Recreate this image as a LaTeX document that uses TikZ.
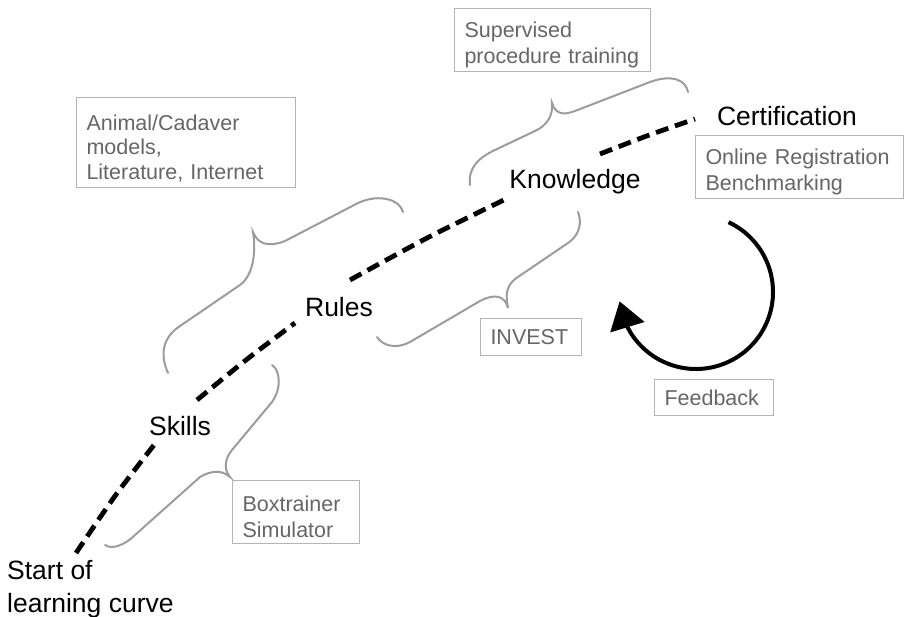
\documentclass[tikz,border=0pt]{standalone}
\usepackage{fontspec}
\setmainfont{Liberation Sans}
\usetikzlibrary{arrows.meta,bending}
\definecolor{bracegray}{HTML}{9C9C9C}
\definecolor{boxgray}{HTML}{B4B4B4}
\definecolor{textgray}{HTML}{666666}
\newcommand\boxtoppad{\rule{0pt}{25.5pt}}
\tikzset{
  mainlabel/.style={font=\fontsize{26.5}{33}\selectfont, text=black, inner sep=3pt},
  infobox/.style={draw=boxgray, line width=1pt, text=textgray,
    font=\fontsize{21.5}{26}\selectfont, align=left,
    inner xsep=10pt, inner ysep=0pt, anchor=north west},
  bracestyle/.style={draw=bracegray, line width=2pt, line cap=round},
  learncurve/.style={line width=4.8pt, dash pattern=on 13pt off 7pt},
  feedbackarrow/.style={line width=4pt, -{Triangle[length=27pt,width=35pt]}},
}
\begin{document}
\begin{tikzpicture}[x=1pt,y=-1pt]
\fill[white] (0,0) rectangle (911,617);
\useasboundingbox (0,0) rectangle (911,617);

% main labels
\node[mainlabel] (skills) at (180,426) {Skills};
\node[mainlabel] (rules) at (339,307) {Rules};
\node[mainlabel] (knowledge) at (575,182) {Knowledge};
\node[mainlabel] (cert) at (787,116) {Certification};
\node[mainlabel, align=left, anchor=north west] (start) at (4,557) {Start of\\learning curve};

% learning curve, drawn between the labels
\coordinate (s0) at (76,553);
\coordinate (s1) at (115,496);
\coordinate (s2) at (154,445);
\coordinate (r0) at (197,400);
\coordinate (r1) at (246,360);
\coordinate (r2) at (295,323);
\coordinate (k0) at (350,280);
\coordinate (k1) at (429,237);
\coordinate (k2) at (508,198);
\coordinate (c0) at (600,154);
\coordinate (c1) at (648,135.5);
\coordinate (c2) at (695,119);
\draw[learncurve] plot[smooth, tension=0.5] coordinates {(s0) (s1) (s2)};
\draw[learncurve] plot[smooth, tension=0.5] coordinates {(r0) (r1) (r2)};
\draw[learncurve] plot[smooth, tension=0.5] coordinates {(k0) (k1) (k2)};
\draw[learncurve] plot[smooth, tension=0.5] coordinates {(c0) (c1) (c2)};

% braces
\draw[bracestyle] (470,185) .. controls (468,168) and (478,158) .. (495,150)
  -- (535,131) .. controls (548,125) and (553,115) .. (552,103)
  .. controls (555,113) and (562,116) .. (575,111)
  -- (650,82) .. controls (672,74) and (686,80) .. (688,92);
\draw[bracestyle] (168,373) .. controls (160,355) and (162,338) .. (180,326)
  -- (240,285) .. controls (254,275) and (256,250) .. (253,232)
  .. controls (258,245) and (270,247) .. (285,241)
  -- (358,203) .. controls (380,193) and (400,200) .. (403,212);
\draw[bracestyle] (377,337) .. controls (382,345) and (395,350) .. (410,342)
  -- (480,301) .. controls (495,293) and (505,296) .. (508,308)
  .. controls (506,296) and (505,288) .. (515,279)
  -- (568,243) .. controls (580,235) and (582,222) .. (578,212);
\draw[bracestyle] (272,365) .. controls (280,370) and (282,388) .. (272,402)
  -- (232,450) .. controls (224,460) and (224,470) .. (230,477)
  .. controls (222,470) and (212,470) .. (200,477)
  -- (135,535) .. controls (125,545) and (112,550) .. (105,545);

% info boxes
\node[infobox, text width=176pt, minimum height=63pt] (sup) at (454,8) {\boxtoppad Supervised\\\mbox{procedure training}};
\node[infobox, text width=188pt, minimum height=63pt] (online) at (695,135) {\boxtoppad Online Registration\\Benchmarking};
\node[infobox, text width=199pt, minimum height=90pt, font=\fontsize{21.5}{24.5}\selectfont] (animal) at (76,97) {\rule{0pt}{27pt}Animal/Cadaver\\models,\\Literature, Internet};
\node[infobox, text width=107pt, minimum height=63pt] (boxtr) at (232,480) {\boxtoppad Boxtrainer\\Simulator};
\node[infobox, text width=81pt, minimum height=37pt] (invest) at (480,318) {INVEST};
\node[infobox, text width=99pt, minimum height=36pt] (feedback) at (654,379) {Feedback};

% feedback arrow
\coordinate (fbc) at (696,292);
\draw[feedbackarrow] ([shift={(-65:77)}]fbc) arc[start angle=-65, end angle=173, radius=77];
\end{tikzpicture}
\end{document}
